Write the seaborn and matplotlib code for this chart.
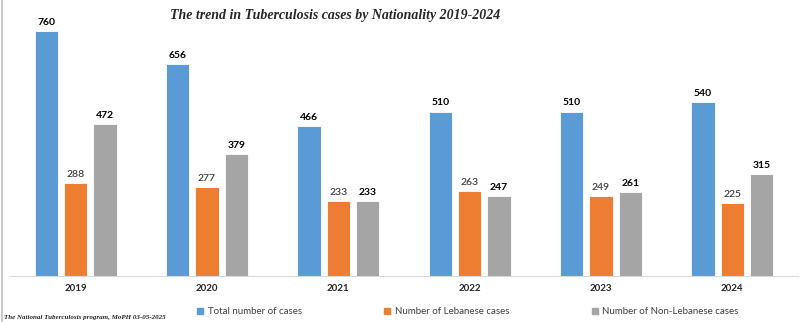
import matplotlib
matplotlib.use("Agg")
import matplotlib.pyplot as plt
import seaborn as sns
import pandas as pd
from matplotlib.lines import Line2D

years = ["2019", "2020", "2021", "2022", "2023", "2024"]
total_cases = [760, 656, 466, 510, 510, 540]
lebanese_cases = [288, 277, 233, 263, 249, 225]
non_lebanese_cases = [472, 379, 233, 247, 261, 315]
series_names = ["Total number of cases", "Number of Lebanese cases", "Number of Non-Lebanese cases"]
colors = ["#5B9BD5", "#ED7D31", "#A5A5A5"]

rows = []
for name, vals in zip(series_names, [total_cases, lebanese_cases, non_lebanese_cases]):
    for y, v in zip(years, vals):
        rows.append({"Year": y, "Series": name, "Cases": v})
df = pd.DataFrame(rows)

sns.set_theme(style="white")
plt.rcParams['font.family'] = ['Lato', 'DejaVu Sans']

fig = plt.figure(figsize=(8.0, 3.22), dpi=100)
ax = fig.add_axes([10/800, 1 - 276/322, 788/800, (276 - 18)/322])

sns.barplot(data=df, x="Year", y="Cases", hue="Series", palette=colors,
            saturation=1, width=0.67, gap=0.2, ax=ax, edgecolor="white",
            linewidth=0.6, legend=False)

ax.set_ylim(0, 800)
ax.set_xlim(-0.5, 5.5)
ax.set_xlabel("")
ax.set_ylabel("")
ax.set_yticks([])
for s in ["top", "right", "left"]:
    ax.spines[s].set_visible(False)
ax.spines["bottom"].set_color("#D9D9D9")
ax.spines["bottom"].set_linewidth(0.8)
ax.tick_params(axis="x", length=0, pad=6, labelsize=7)
for lbl in ax.get_xticklabels():
    lbl.set_fontweight("bold")
    lbl.set_color("#262626")

for i, cont in enumerate(ax.containers):
    if i == 1:
        ax.bar_label(cont, padding=3, fontsize=7.5, color="#404040", fontweight="semibold")
    else:
        ax.bar_label(cont, padding=3, fontsize=7.5, color="#000000", fontweight="bold")

fig.text(335/800, 1 - 15/322, "The trend in Tuberculosis cases by Nationality 2019-2024",
         ha="center", va="center", fontsize=10, fontweight="bold", fontstyle="italic",
         family="Liberation Serif")

handles = [Line2D([0], [0], marker="s", linestyle="none", markersize=5,
                  markerfacecolor=c, markeredgecolor=c) for c in colors]
fig.legend(handles, series_names, loc="center", bbox_to_anchor=(467/800, 1 - 312/322),
           ncol=3, frameon=False, fontsize=7, handletextpad=0.25, columnspacing=8.3,
           handlelength=1.0, labelcolor="#404040")

fig.text(4/800, 1 - 318/322, "The National Tuberculosis program, MoPH 03-05-2025",
         ha="left", va="center", fontsize=5, fontstyle="italic", fontweight="bold",
         family="Liberation Serif")

fig.add_artist(Line2D([2/800, 2/800], [0, 1], transform=fig.transFigure,
                      color="#BFBFBF", linewidth=1.2))

fig.savefig("out.png", dpi=100)
